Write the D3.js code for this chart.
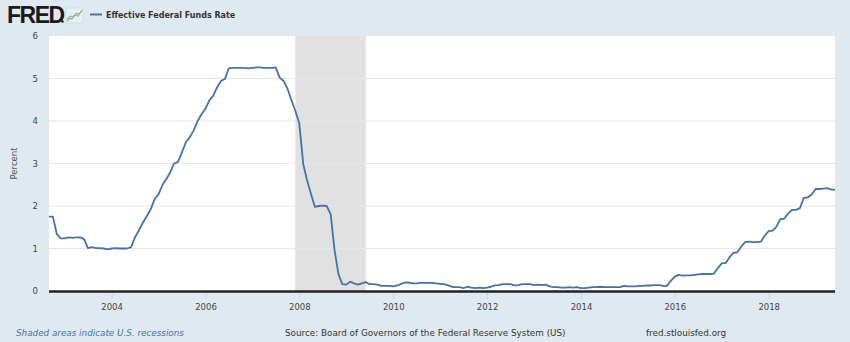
<!DOCTYPE html>
<html>
<head>
<meta charset="utf-8">
<script src="https://cdn.jsdelivr.net/npm/d3@7"></script>
<style>
  html, body { margin: 0; padding: 0; background: #e1e9f0; }
  svg { display: block; font-family: "DejaVu Sans", "Open Sans", sans-serif; }
</style>
</head>
<body>
<svg id="chart" width="850" height="342"></svg>
<script>
// Effective Federal Funds Rate, monthly averages (percent), Sep 2002 – Jun 2019
const startMonth = "2002-09-01";
const rates = [
  // 2002 Sep–Dec
  1.75, 1.75, 1.34, 1.24,
  // 2003
  1.24, 1.26, 1.25, 1.26, 1.26, 1.22, 1.01, 1.03, 1.01, 1.01, 1.00, 0.98,
  // 2004
  1.00, 1.01, 1.00, 1.00, 1.00, 1.03, 1.26, 1.43, 1.61, 1.76, 1.93, 2.16,
  // 2005
  2.28, 2.50, 2.63, 2.79, 3.00, 3.04, 3.26, 3.50, 3.62, 3.78, 4.00, 4.16,
  // 2006
  4.29, 4.49, 4.59, 4.79, 4.94, 4.99, 5.24, 5.25, 5.25, 5.25, 5.25, 5.24,
  // 2007
  5.25, 5.26, 5.26, 5.25, 5.25, 5.25, 5.26, 5.02, 4.94, 4.76, 4.49, 4.24,
  // 2008
  3.94, 2.98, 2.61, 2.28, 1.98, 2.00, 2.01, 2.00, 1.81, 0.97, 0.39, 0.16,
  // 2009
  0.15, 0.22, 0.18, 0.15, 0.18, 0.21, 0.16, 0.16, 0.15, 0.12, 0.12, 0.12,
  // 2010
  0.11, 0.13, 0.16, 0.20, 0.20, 0.18, 0.18, 0.19, 0.19, 0.19, 0.19, 0.18,
  // 2011
  0.17, 0.16, 0.14, 0.10, 0.09, 0.09, 0.07, 0.10, 0.08, 0.07, 0.08, 0.07,
  // 2012
  0.08, 0.10, 0.13, 0.14, 0.16, 0.16, 0.16, 0.13, 0.14, 0.16, 0.16, 0.16,
  // 2013
  0.14, 0.15, 0.14, 0.15, 0.11, 0.09, 0.09, 0.08, 0.08, 0.09, 0.08, 0.09,
  // 2014
  0.07, 0.07, 0.08, 0.09, 0.09, 0.10, 0.09, 0.09, 0.09, 0.09, 0.09, 0.12,
  // 2015
  0.11, 0.11, 0.11, 0.12, 0.12, 0.13, 0.13, 0.14, 0.14, 0.12, 0.12, 0.24,
  // 2016
  0.34, 0.38, 0.36, 0.37, 0.37, 0.38, 0.39, 0.40, 0.40, 0.40, 0.41, 0.54,
  // 2017
  0.65, 0.66, 0.79, 0.90, 0.91, 1.04, 1.15, 1.16, 1.15, 1.15, 1.16, 1.30,
  // 2018
  1.41, 1.42, 1.51, 1.69, 1.70, 1.82, 1.91, 1.91, 1.95, 2.19, 2.20, 2.27,
  // 2019 Jan–Jun
  2.40, 2.40, 2.41, 2.42, 2.39, 2.38
];
const recessions = [["2007-12-01", "2009-06-01"]];
const yTicks = [0, 1, 2, 3, 4, 5, 6];
const xTickYears = [2004, 2006, 2008, 2010, 2012, 2014, 2016, 2018];

const seriesTitle = "Effective Federal Funds Rate";
const yAxisTitle = "Percent";
const noteText = "Shaded areas indicate U.S. recessions";
const sourceText = "Source: Board of Governors of the Federal Reserve System (US)";
const siteText = "fred.stlouisfed.org";

const parse = d3.utcParse("%Y-%m-%d");
const t0 = parse(startMonth);
const data = rates.map((v, i) => ({ date: d3.utcMonth.offset(t0, i), value: v }));

const svg = d3.select("#chart");
const plot = { left: 49, right: 835, top: 36, bottom: 291 };

const x = d3.scaleUtc()
  .domain([data[0].date, data[data.length - 1].date])
  .range([plot.left, plot.right]);
const y = d3.scaleLinear().domain([0, 6]).range([plot.bottom, plot.top]);

// plot background
svg.append("rect")
  .attr("x", plot.left).attr("y", plot.top)
  .attr("width", plot.right - plot.left).attr("height", plot.bottom - plot.top)
  .attr("fill", "#ffffff");

// recession bands
svg.append("g").selectAll("rect").data(recessions).join("rect")
  .attr("x", d => x(parse(d[0])))
  .attr("width", d => x(parse(d[1])) - x(parse(d[0])))
  .attr("y", plot.top).attr("height", plot.bottom - plot.top)
  .attr("fill", "#e1e1e1");

// horizontal gridlines
svg.append("g").selectAll("line").data(yTicks.filter(t => t > 0 && t < 6)).join("line")
  .attr("x1", plot.left).attr("x2", plot.right)
  .attr("y1", d => y(d)).attr("y2", d => y(d))
  .attr("stroke", "#e6e6e6").attr("stroke-width", 1);

// y axis labels
const yAxis = d3.axisLeft(y).tickValues(yTicks).tickSize(0).tickPadding(11)
  .tickFormat(d3.format("d"));
const gy = svg.append("g").attr("transform", `translate(${plot.left},0)`).call(yAxis);
gy.select(".domain").remove();
gy.selectAll("text").attr("fill", "#444").style("font-size", "8.5px")
  .attr("font-family", "DejaVu Sans, sans-serif");

// x axis
const xAxis = d3.axisBottom(x)
  .tickValues(xTickYears.map(yr => new Date(Date.UTC(yr, 0, 1))))
  .tickSize(8).tickPadding(5).tickFormat(d3.utcFormat("%Y"));
const gx = svg.append("g").attr("transform", `translate(0,${plot.bottom})`).call(xAxis);
gx.select(".domain").remove();
gx.selectAll(".tick line").attr("stroke", "#ccd6eb");
gx.selectAll("text").attr("fill", "#444").style("font-size", "8.5px")
  .attr("font-family", "DejaVu Sans, sans-serif");

svg.append("line")
  .attr("x1", plot.left).attr("x2", plot.right)
  .attr("y1", plot.bottom + 0.5).attr("y2", plot.bottom + 0.5)
  .attr("stroke", "#222").attr("stroke-width", 2.5);

// series line
svg.append("path").datum(data)
  .attr("fill", "none")
  .attr("stroke", "#4572a7")
  .attr("stroke-width", 1.8)
  .attr("stroke-linejoin", "round")
  .attr("d", d3.line().x(d => x(d.date)).y(d => y(d.value)));

// y axis title
svg.append("text")
  .attr("transform", `translate(17,${(plot.top + plot.bottom) / 2}) rotate(-90)`)
  .attr("text-anchor", "middle")
  .attr("fill", "#555").style("font-size", "8.5px")
  .text(yAxisTitle);

// header: FRED wordmark
svg.append("text")
  .attr("x", 7).attr("y", 23)
  .attr("font-family", "Liberation Sans, Arial, sans-serif")
  .attr("font-weight", "900").style("font-size", "23px")
  .attr("letter-spacing", "-1.5px")
  .attr("fill", "#1a1a1a")
  .text("FRED");
svg.append("circle").attr("cx", 62.5).attr("cy", 21.5).attr("r", 1.2).attr("fill", "#1a1a1a");

// small chart icon next to the wordmark
const icon = svg.append("g").attr("transform", "translate(66,8)");
icon.append("rect").attr("x", 0).attr("y", 0).attr("width", 17).attr("height", 15)
  .attr("fill", "#e8eef3").attr("stroke", "#c9d3dc").attr("stroke-width", 0.6);
icon.append("polyline").attr("points", "1,13 4,10 6,11 9,7 12,8 16,2")
  .attr("fill", "none").attr("stroke", "#8bbd5a").attr("stroke-width", 1.2);
icon.append("polyline").attr("points", "1,11 4,8 7,9 10,5 13,6 16,3")
  .attr("fill", "none").attr("stroke", "#7aa6c9").attr("stroke-width", 1);

// legend
svg.append("line").attr("x1", 90).attr("x2", 102).attr("y1", 14.5).attr("y2", 14.5)
  .attr("stroke", "#4572a7").attr("stroke-width", 2);
svg.append("text").attr("x", 106).attr("y", 17.5)
  .attr("font-weight", "bold").style("font-size", "8px").attr("fill", "#333")
  .text(seriesTitle);

// footer
svg.append("text").attr("x", 16).attr("y", 336)
  .attr("font-style", "italic").style("font-size", "8.8px").attr("fill", "#4572a7")
  .text(noteText);
svg.append("text").attr("x", 285).attr("y", 336)
  .style("font-size", "8.8px").attr("fill", "#333")
  .text(sourceText);
svg.append("text").attr("x", 646).attr("y", 336)
  .style("font-size", "8.8px").attr("fill", "#333")
  .text(siteText);
</script>
</body>
</html>
